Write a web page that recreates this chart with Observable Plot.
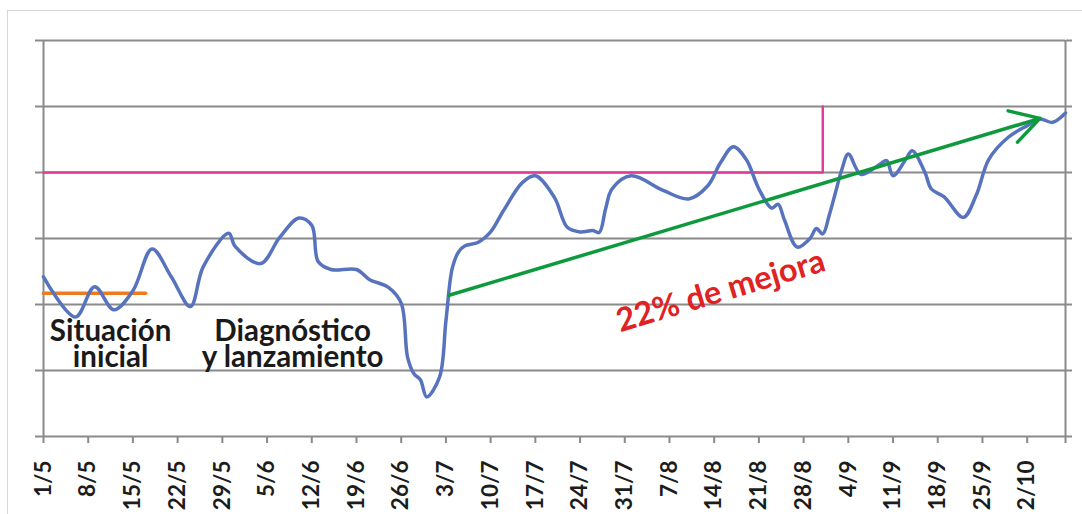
<!DOCTYPE html>
<html><head><meta charset="utf-8">
<script src="https://cdn.jsdelivr.net/npm/d3@7"></script>
<script src="https://cdn.jsdelivr.net/npm/@observablehq/plot@0.6"></script>
<style>
html,body{margin:0;padding:0;background:#fff;overflow:hidden;}
#wrap{position:relative;width:1082px;height:514px;}
#frame{position:absolute;left:7px;top:10px;width:1100px;height:530px;border-left:1px solid #d6d6d6;border-top:1px solid #d6d6d6;pointer-events:none;}
svg{display:block;}
</style></head><body><div id="wrap"><div id="frame"></div></div>
<script>
// blue series (dates and values)
const dates = ["2013-05-01","2013-05-06","2013-05-09","2013-05-12","2013-05-15","2013-05-18","2013-05-21","2013-05-24","2013-05-26","2013-05-30","2013-05-31","2013-06-04","2013-06-07","2013-06-10","2013-06-12","2013-06-13","2013-06-15","2013-06-19","2013-06-21","2013-06-24","2013-06-26","2013-06-27","2013-06-28","2013-06-29","2013-06-30","2013-07-02","2013-07-03","2013-07-04","2013-07-05","2013-07-06","2013-07-08","2013-07-10","2013-07-12","2013-07-15","2013-07-17","2013-07-20","2013-07-22","2013-07-24","2013-07-26","2013-07-27","2013-07-28","2013-07-29","2013-08-01","2013-08-06","2013-08-10","2013-08-13","2013-08-15","2013-08-17","2013-08-19","2013-08-21","2013-08-23","2013-08-24","2013-08-25","2013-08-27","2013-08-29","2013-08-30","2013-08-31","2013-09-01","2013-09-02","2013-09-03","2013-09-04","2013-09-06","2013-09-09","2013-09-10","2013-09-11","2013-09-13","2013-09-14","2013-09-16","2013-09-17","2013-09-19","2013-09-22","2013-09-24","2013-09-26","2013-09-29","2013-10-02","2013-10-04","2013-10-06","2013-10-08"];
const values = [2.42,1.81,2.27,1.92,2.21,2.84,2.42,1.97,2.57,3.08,2.88,2.62,3.02,3.31,3.2,2.65,2.53,2.53,2.38,2.26,2.02,1.2,0.95,0.86,0.6,0.9,1.75,2.55,2.8,2.89,2.94,3.1,3.42,3.85,3.95,3.62,3.17,3.1,3.12,3.09,3.45,3.75,3.95,3.73,3.6,3.8,4.15,4.39,4.2,3.75,3.46,3.52,3.28,2.87,3.0,3.15,3.07,3.35,3.7,4.05,4.28,3.97,4.13,4.18,3.95,4.2,4.33,4.0,3.75,3.63,3.32,3.65,4.2,4.53,4.71,4.81,4.76,4.9];

// x axis
const xStart = "2013-05-01";
const xEnd = "2013-10-08";
const tickDates = ["2013-05-01","2013-05-08","2013-05-15","2013-05-22","2013-05-29","2013-06-05","2013-06-12","2013-06-19","2013-06-26","2013-07-03","2013-07-10","2013-07-17","2013-07-24","2013-07-31","2013-08-07","2013-08-14","2013-08-21","2013-08-28","2013-09-04","2013-09-11","2013-09-18","2013-09-25","2013-10-02","2013-10-08"];
const tickLabels = ["1/5","8/5","15/5","22/5","29/5","5/6","12/6","19/6","26/6","3/7","10/7","17/7","24/7","31/7","7/8","14/8","21/8","28/8","4/9","11/9","18/9","25/9","2/10",""];
const gridValues = [0,1,2,3,4,5,6];

// target (pink) and initial level (orange)
const pinkDates = ["2013-05-01","2013-08-31","2013-08-31"];
const pinkValues = [4,4,5];
const orangeDates = ["2013-05-01","2013-05-17"];
const orangeValues = [2.17,2.17];

// improvement arrow
const arrowFrom = ["2013-07-03T12:00Z", 2.14];
const arrowTo = ["2013-10-04", 4.82];

// annotations
const noteTexts = ["Situación\ninicial","Diagnóstico\ny lanzamiento"];
const noteDates = ["2013-05-11T12:00Z","2013-06-09"];
const noteValues = [1.05,1.05];
const gainText = ["22% de mejora"];
const gainDate = ["2013-08-15"];
const gainValue = [2.2];

const P = s => new Date(s);
const gridColor = "#8a8a8a";
const series = dates.map((d,i)=>({date:P(d), value:values[i]}));
const pink = pinkDates.map((d,i)=>({date:P(d), value:pinkValues[i]}));
const orange = orangeDates.map((d,i)=>({date:P(d), value:orangeValues[i]}));
const notes = noteTexts.map((t,i)=>({text:t, date:P(noteDates[i]), value:noteValues[i]}));
const gain = gainText.map((t,i)=>({text:t, date:P(gainDate[i]), value:gainValue[i]}));
const labelOf = new Map(tickDates.map((d,i)=>[+P(d), tickLabels[i]]));

const chart = Plot.plot({
  width:1082, height:514,
  marginLeft:43, marginRight:17, marginTop:40, marginBottom:78,
  style:{fontFamily:"Lato, 'Open Sans', sans-serif", background:"transparent"},
  x:{type:"utc", domain:[P(xStart), P(xEnd)]},
  y:{domain:[0,6]},
  marks:[
    Plot.ruleY(gridValues, {stroke:gridColor, strokeWidth:2}),
    Plot.ruleX([P(xStart), P(xEnd)], {stroke:gridColor, strokeWidth:2}),
    Plot.axisY({anchor:"left", ticks:gridValues, tickSize:8, tickFormat:()=>"", stroke:gridColor, strokeWidth:2, label:null}),
    Plot.axisY({anchor:"right", ticks:gridValues, tickSize:6, tickFormat:()=>"", stroke:gridColor, strokeWidth:2, label:null}),
    Plot.axisX({ticks:tickDates.map(P), tickFormat:d=>labelOf.get(+d) ?? "", tickRotate:-90, tickSize:7, tickPadding:17,
      fontSize:22.5, fontWeight:"bold", fill:"#1c1c1c", stroke:gridColor, strokeWidth:2, label:null}),
    Plot.line(pink, {x:"date", y:"value", stroke:"#e23c98", strokeWidth:2.5}),
    Plot.line(orange, {x:"date", y:"value", stroke:"#ee7b22", strokeWidth:3.5}),
    Plot.line(series, {x:"date", y:"value", curve:"catmull-rom", stroke:"#5873bd", strokeWidth:3.5}),
    Plot.arrow([{x1:P(arrowFrom[0]), y1:arrowFrom[1], x2:P(arrowTo[0]), y2:arrowTo[1]}],
      {x1:"x1", y1:"y1", x2:"x2", y2:"y2", stroke:"#0e9a3c", strokeWidth:3.5, headLength:14, headAngle:60}),
    Plot.text(notes, {x:"date", y:"value", text:"text", fontSize:29.5, fontWeight:"bold", fill:"#1a1a1a", lineAnchor:"bottom", lineHeight:0.9, textAnchor:"middle"}),
    Plot.text(gain, {x:"date", y:"value", text:"text", fontSize:32.5, fontWeight:"bold", fill:"#e02222", rotate:-16.7, textAnchor:"middle", lineAnchor:"middle"})
  ]
});
document.getElementById("wrap").prepend(chart);
</script>
</body></html>
